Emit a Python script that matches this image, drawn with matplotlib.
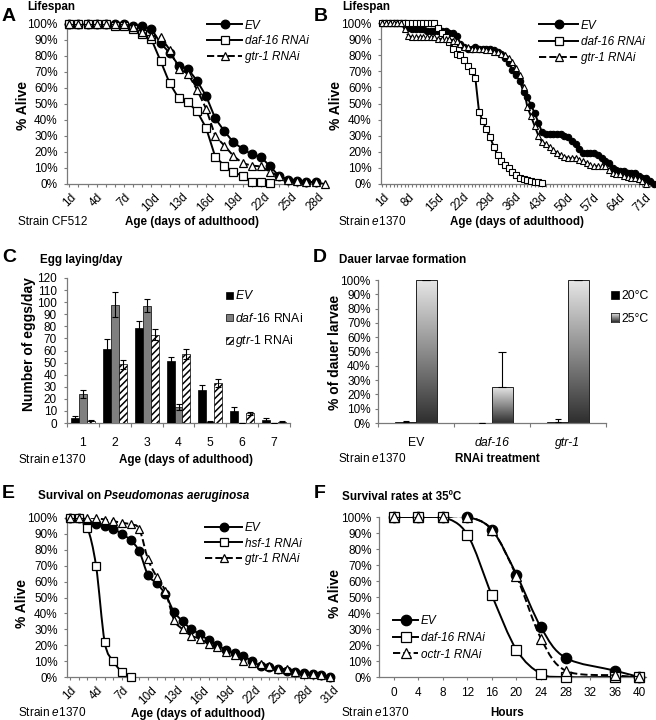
import numpy as np
import matplotlib
matplotlib.use('Agg')
import matplotlib.pyplot as plt
from matplotlib.transforms import Affine2D
from matplotlib.lines import Line2D
from matplotlib.patches import Rectangle, PathPatch
from matplotlib.path import Path
from matplotlib.colors import LinearSegmentedColormap

plt.rcParams['font.family'] = ['Liberation Sans', 'DejaVu Sans']
plt.rcParams['mathtext.fontset'] = 'custom'
plt.rcParams['mathtext.rm'] = 'Liberation Sans'
plt.rcParams['mathtext.it'] = 'Liberation Sans:italic'
plt.rcParams['mathtext.bf'] = 'Liberation Sans:bold'
plt.rcParams['hatch.linewidth'] = 1.1

# ---------------- data ----------------
# Panel A: lifespan, strain CF512 (% alive per day)
a_ev = [100, 100, 100, 100, 100, 100, 100, 99, 98.5, 97, 88, 82, 74, 72, 64.5, 55, 41, 33, 26, 22,
        18.5, 17, 11, 5, 2.5, 2, 1.5, 1]
a_daf16 = [100, 100, 100, 100, 100, 99, 99, 97, 93.5, 90.5, 77, 63, 53.5, 51, 45.5, 35, 17, 11.5, 7.5, 5,
           1.5, 1, 0.5]
a_gtr1 = [100, 100, 100, 100, 100, 100, 100, 98, 95, 92.5, 92, 84, 72, 69, 59, 47, 30, 24, 17.5, 13,
          11.5, 11, 7.5, 5, 2.5, 2, 1.5, 1, 0]
a_ticks = list(range(1, 30, 3))

# Panel B: lifespan, strain e1370
b_ev = [100, 100, 100, 100, 100, 100, 100, 97, 96, 96,
        96, 96, 95, 95, 95, 95, 95, 95, 94, 94,
        92, 87, 85, 84, 84, 85, 84, 84, 84, 84,
        83, 82, 80.5, 78, 75, 71, 68, 64, 57, 54,
        49, 44, 38, 32, 31, 31, 31, 31, 31, 30,
        29, 27, 25, 22, 19, 19, 19, 19, 18, 16,
        14, 13, 10, 9, 8, 8, 7, 7, 7, 5,
        4, 3.5, 2, 0]
b_daf16 = [100, 100, 100, 100, 100, 100, 100, 100, 100, 100,
           100, 100, 100, 100, 100, 97, 94, 91, 88, 84,
           81, 80, 77, 73, 70, 66, 45, 39, 34, 29,
           23, 18, 14.5, 11.5, 10, 7.5, 5.5, 4, 3, 2.5,
           2, 1.5, 1, 0.5]
b_gtr1 = [100, 100, 100, 100, 100, 100, 96, 92, 91, 91,
          91, 91, 91, 91, 91, 90, 90, 90, 90, 89,
          89, 87, 85, 85, 84, 84, 84, 84, 83, 83,
          82, 82, 81, 80, 78, 76, 72, 68, 60, 48,
          42, 36, 30, 26, 25, 23, 21, 19.5, 18, 17,
          16, 16, 16, 15, 14, 13, 12, 11, 11, 11,
          11, 9, 7, 6.5, 6, 5, 4.5, 4, 3.5, 3,
          2, 0]
b_ticks = list(range(1, 75, 7))

# Panel C: egg laying per day
c_days = [1, 2, 3, 4, 5, 6, 7]
c_ev = [4, 61, 79, 51, 27, 10, 2.5]
c_ev_err = [2, 8.5, 5.5, 3.6, 4.2, 3.1, 1.4]
c_daf16 = [24, 98, 97, 13, 1, 0, 0]
c_daf16_err = [3.3, 10.5, 5.5, 2.5, 0.3, 0, 0]
c_gtr1 = [2, 48.5, 73, 57, 33, 8, 1]
c_gtr1_err = [0.5, 3.5, 4.5, 4.2, 3.4, 1.4, 0.4]

# Panel D: dauer larvae formation
d_cats = ['EV', 'daf-16', 'gtr-1']
d_20 = [0.6, 0, 1.0]
d_20_err = [1.0, 0, 2.0]
d_25 = [100, 25, 100]
d_25_err = [0, 25, 0]

# Panel E: survival on P. aeruginosa
e_ev = [100, 100, 97, 96, 95, 93, 90, 86, 79, 64, 59, 52, 41, 35, 30, 27, 23, 20, 17, 15,
        13, 10, 7, 6, 5, 4, 3, 2.5, 2, 1, 0]
e_hsf1 = [100, 100, 94, 70, 22, 10, 3, 0]
e_gtr1 = [100, 100, 100, 100, 99, 98, 97, 96, 93, 74, 63, 54, 36, 30, 26, 24, 21, 19, 16, 14,
          10, 9, 8, 7, 5, 5, 3, 2, 2, 1, 0]
e_ticks = list(range(1, 32, 3))

# Panel F: survival at 35 C
f_hours = [0, 4, 8, 12, 16, 20, 24, 28, 36, 40]
f_ev = [100, 100, 100, 100, 92, 64, 31, 12, 4, 0]
f_daf16 = [100, 100, 100, 89, 51, 17, 2, 0, 0, 0]
f_octr1 = [100, 100, 100, 100, 92, 63, 24, 4, 1, 0]
f_ticks = list(range(0, 41, 4))

# ---------------- figure helpers ----------------
W, H = 656, 720
fig = plt.figure(figsize=(W / 100, H / 100), dpi=100)
pxT = Affine2D().scale(0.01, -0.01).translate(0, H / 100) + fig.dpi_scale_trans
AXC = '#7a7a7a'
LW = 1.4
TK = 8.5      # tick label size


def px_rect(l, t, r, b):
    return [l / W, 1 - b / H, (r - l) / W, (b - t) / H]


def mkax(l, t, r, b):
    ax = fig.add_axes(px_rect(l, t, r, b))
    for s in ('top', 'right'):
        ax.spines[s].set_visible(False)
    for s in ('left', 'bottom'):
        ax.spines[s].set_color(AXC)
        ax.spines[s].set_linewidth(0.9)
    ax.tick_params(which='both', direction='out', color=AXC, width=0.8, length=2.2,
                   labelsize=TK, labelcolor='black')
    ax.set_facecolor('none')
    return ax


def pct_y(ax, pad=4.5):
    ax.set_ylim(0, 100)
    ax.set_yticks(range(0, 101, 10))
    ax.set_yticklabels([f'{v}%' for v in range(0, 101, 10)])
    ax.tick_params(axis='y', pad=pad, labelsize=TK)


def ftext(x, y, s, size, **kw):
    va = kw.pop('va', 'baseline')
    return fig.text(x, y, s, transform=pxT, fontsize=size, va=va, **kw)


def cap(size):
    return 0.716 * size * 100 / 72


MK = {'ev': dict(marker='o', mfc='black', mec='black'),
      'sq': dict(marker='s', mfc='white', mec='black'),
      'tri': dict(marker='^', mfc='white', mec='black')}


def bezier_path(x, y):
    p = np.column_stack([x, y]).astype(float)
    n = len(p)
    verts = [p[0]]
    codes = [Path.MOVETO]
    for i in range(n - 1):
        p0 = p[max(i - 1, 0)]
        p1 = p[i]
        p2 = p[i + 1]
        p3 = p[min(i + 2, n - 1)]
        verts += [p1 + (p2 - p0) / 6, p2 - (p3 - p1) / 6, p2]
        codes += [Path.CURVE4] * 3
    return Path(verts, codes)


def plot_series(ax, x, y, kind, ms, smooth=False, z=3, mew=0.9):
    ls = '--' if kind == 'tri' else '-'
    if smooth:
        ax.add_patch(PathPatch(bezier_path(x, y), fill=False, ec='black', lw=LW, ls=ls, zorder=z))
    else:
        ax.plot(x, y, color='black', lw=LW, ls=ls, zorder=z)
    ax.plot(x, y, ls='none', ms=ms, mew=mew, zorder=z + 0.5, clip_on=False, **MK[kind])


def leg_line(x0, x1, y, kind, ms, label, tx, size=8.5):
    ls = '--' if kind == 'tri' else '-'
    fig.add_artist(Line2D([x0, x1], [y, y], transform=pxT, color='black', lw=LW, ls=ls))
    fig.add_artist(Line2D([(x0 + x1) / 2], [y], transform=pxT, ls='none', ms=ms, mew=0.9, **MK[kind]))
    ftext(tx, y + cap(size) / 2, label, size, style='italic')


def day_axis(ax, days, ticks, lo, hi):
    ax.set_xlim(lo, hi)
    ax.set_xticks(days, minor=True)
    ax.set_xticks(ticks)
    ax.set_xticklabels([f'{d}d' for d in ticks], rotation=45, ha='center', va='top')
    ax.tick_params(axis='x', which='both', length=2.2, pad=3, labelsize=TK)


TITLE = 8.4
XL = 8.4
YL = 10
LET = 14

# ---------------- Panel A ----------------
ax = mkax(67, 24, 327, 184)
plot_series(ax, range(1, len(a_ev) + 1), a_ev, 'ev', 6.2, z=3)
plot_series(ax, range(1, len(a_daf16) + 1), a_daf16, 'sq', 6.2, z=4)
plot_series(ax, range(1, len(a_gtr1) + 1), a_gtr1, 'tri', 6.2, z=5)
pct_y(ax)
day_axis(ax, range(1, len(a_gtr1) + 1), a_ticks, 0.75, 29.25)
leg_line(207, 242, 24.3, 'ev', 6.2, 'EV', 245)
leg_line(207, 242, 40, 'sq', 6.2, 'daf-16 RNAi', 245)
leg_line(207, 242, 55.7, 'tri', 6.2, 'gtr-1 RNAi', 245)
ftext(2, 20.7, 'A', LET, weight='bold')
ftext(27, 9.8, 'Lifespan', TITLE, weight='bold')
ftext(23, 105, '% Alive', YL, weight='bold', rotation=90, ha='center', va='center')
ftext(18, 225, 'Strain CF512', 8.5)
ftext(192, 225, 'Age (days of adulthood)', XL, weight='bold', ha='center')

# ---------------- Panel B ----------------
ax = mkax(381, 23, 655, 184)
plot_series(ax, range(1, len(b_ev) + 1), b_ev, 'ev', 4.6, z=3, mew=0.8)
plot_series(ax, range(1, len(b_daf16) + 1), b_daf16, 'sq', 4.6, z=4, mew=0.8)
plot_series(ax, range(1, len(b_gtr1) + 1), b_gtr1, 'tri', 4.6, z=5, mew=0.8)
pct_y(ax)
day_axis(ax, range(1, len(b_ev) + 1), b_ticks, 0.6, 74.4)
leg_line(539, 578, 24.3, 'ev', 6.2, 'EV', 581)
leg_line(539, 578, 40.7, 'sq', 6.2, 'daf-16 RNAi', 581)
leg_line(539, 578, 56.7, 'tri', 6.2, 'gtr-1 RNAi', 581)
ftext(314, 20.7, 'B', LET, weight='bold')
ftext(342, 9.8, 'Lifespan', TITLE, weight='bold')
ftext(336, 105, '% Alive', YL, weight='bold', rotation=90, ha='center', va='center')
ftext(338, 225, 'Strain $\\mathit{e1370}$', 8.5)
ftext(517, 225, 'Age (days of adulthood)', XL, weight='bold', ha='center')

# ---------------- Panel C ----------------
ax = mkax(67, 278, 290, 423)
bw = 0.25
xs = np.array(c_days, dtype=float)
ekw = dict(ecolor='black', elinewidth=0.8, capsize=2.2, capthick=0.8)
ax.bar(xs - bw, c_ev, bw, color='black', edgecolor='black', lw=0.5, yerr=c_ev_err,
       error_kw=ekw, zorder=3)
ax.bar(xs, c_daf16, bw, color='#7f7f7f', edgecolor='black', lw=0.5, yerr=c_daf16_err,
       error_kw=ekw, zorder=3)
ax.bar(xs + bw, c_gtr1, bw, color='white', edgecolor='black', lw=0.5, hatch='/////',
       yerr=c_gtr1_err, error_kw=ekw, zorder=3)
ax.set_xlim(0.5, 7.5)
ax.set_ylim(0, 120)
ax.set_yticks(range(0, 121, 10))
ax.tick_params(axis='y', pad=5, labelsize=TK)
ax.set_xticks(np.arange(0.5, 7.6, 1))
ax.set_xticklabels([])
ax.set_xticks(c_days, minor=True)
ax.set_xticklabels([str(d) for d in c_days], minor=True)
ax.tick_params(axis='x', which='major', length=3)
ax.tick_params(axis='x', which='minor', length=0, pad=10, labelsize=8.8)
# legend
for i, (fc, hat, lab) in enumerate([('black', None, '$\\mathit{EV}$'),
                                    ('#7f7f7f', None, '$\\mathit{daf}$-$\\mathit{16}$ RNAi'),
                                    ('white', '/////', '$\\mathit{gtr}$-$\\mathit{1}$ RNAi')]):
    yc = 295 + i * 22.5
    fig.add_artist(Rectangle((226, yc - 3.5), 6.5, 7, transform=pxT, fc=fc, ec='black',
                             lw=0.5, hatch=hat))
    ftext(235, yc + cap(8.8) / 2, lab, 8.8)
ftext(2, 262, 'C', LET, weight='bold')
ftext(40, 263, 'Egg laying/day', TITLE, weight='bold')
ftext(29, 344, 'Number of eggs/day', YL, weight='bold', rotation=90, ha='center', va='center')
ftext(18, 463, 'Strain $\\mathit{e1370}$', 8.5)
ftext(186, 463, 'Age (days of adulthood)', XL, weight='bold', ha='center')

# ---------------- Panel D ----------------
ax = mkax(378, 280, 606, 423)
dw = 0.27
xd = np.arange(1, len(d_cats) + 1, dtype=float)
gcmap = LinearSegmentedColormap.from_list('g', ['#2e2e2e', '#8c8c8c', '#e6e6e6'])
grad = np.linspace(0, 1, 256).reshape(-1, 1)
ax.bar(xd - dw / 2, d_20, dw, color='black', edgecolor='black', lw=0.5,
       yerr=[np.zeros(3), d_20_err], error_kw=ekw, zorder=3)
bars = ax.bar(xd + dw / 2, d_25, dw, facecolor='none', edgecolor='#222222', lw=0.7,
              yerr=[np.zeros(3), d_25_err], error_kw=dict(ekw, capsize=2.8), zorder=3)
for b in bars:
    if b.get_height() > 0:
        ax.imshow(grad, extent=[b.get_x(), b.get_x() + b.get_width(), 0, b.get_height()],
                  origin='lower', cmap=gcmap, aspect='auto', zorder=2, interpolation='bilinear')
ax.set_xlim(0.5, 3.5)
pct_y(ax, pad=3)
ax.set_xticks(np.arange(0.5, 3.6, 1))
ax.set_xticklabels([])
ax.set_xticks(xd, minor=True)
ax.set_xticklabels(d_cats, minor=True)
for lab in ax.get_xticklabels(minor=True):
    if lab.get_text() != 'EV':
        lab.set_style('italic')
ax.tick_params(axis='x', which='major', length=3)
ax.tick_params(axis='x', which='minor', length=0, pad=10, labelsize=8.8)
fig.add_artist(Rectangle((611, 290.5), 8, 8.5, transform=pxT, fc='black', ec='black', lw=0.5))
ftext(621, 294.7 + cap(8.8) / 2, '20°C', 8.8)
sw = fig.add_axes(px_rect(611, 313, 619, 321.5))
sw.imshow(grad, origin='lower', cmap=gcmap, aspect='auto', extent=[0, 1, 0, 1])
sw.set_xticks([])
sw.set_yticks([])
for s in sw.spines.values():
    s.set_color('#222222')
    s.set_linewidth(0.6)
ftext(621, 317.2 + cap(8.8) / 2, '25°C', 8.8)
ftext(313, 262, 'D', LET, weight='bold')
ftext(339, 263, 'Dauer larvae formation', TITLE, weight='bold')
ftext(335, 352, '% of dauer larvae', YL, weight='bold', rotation=90, ha='center', va='center')
ftext(338, 462, 'Strain $\\mathit{e1370}$', 8.5)
ftext(497, 462, 'RNAi treatment', XL, weight='bold', ha='center')

# ---------------- Panel E ----------------
ax = mkax(67, 518, 333, 677)
plot_series(ax, range(1, len(e_ev) + 1), e_ev, 'ev', 6.2, smooth=True, z=3)
plot_series(ax, range(1, len(e_hsf1) + 1), e_hsf1, 'sq', 6.2, smooth=True, z=4)
plot_series(ax, range(1, len(e_gtr1) + 1), e_gtr1, 'tri', 6.2, smooth=True, z=5)
pct_y(ax)
day_axis(ax, range(1, len(e_ev) + 1), e_ticks, 0.65, 31.35)
leg_line(205, 242, 526.7, 'ev', 6.2, 'EV', 245)
leg_line(205, 242, 542.3, 'sq', 6.2, 'hsf-1 RNAi', 245)
leg_line(205, 242, 557.5, 'tri', 6.2, 'gtr-1 RNAi', 245)
ftext(2, 498.5, 'E', LET, weight='bold')
r = fig.canvas.get_renderer()
t1 = ftext(38, 499, 'Survival on', TITLE, weight='bold')
x2 = 38 + t1.get_window_extent(r).width + 0.278 * TITLE * 100 / 72
ftext(x2, 499, 'Pseudomonas aeruginosa', TITLE, weight='bold', style='italic')
ftext(22.5, 603, '% Alive', YL, weight='bold', rotation=90, ha='center', va='center')
ftext(18, 716.5, 'Strain $\\mathit{e1370}$', 8.5)
ftext(198, 716.5, 'Age (days of adulthood)', XL, weight='bold', ha='center')

# ---------------- Panel F ----------------
ax = mkax(379, 517, 646, 677)
plot_series(ax, f_hours, f_ev, 'ev', 7.5, smooth=True, z=3)
plot_series(ax, f_hours, f_daf16, 'sq', 7.5, smooth=True, z=4)
plot_series(ax, f_hours, f_octr1, 'tri', 7.5, smooth=True, z=5)
pct_y(ax, pad=3)
ax.set_xlim(-2.4, 41.1)
ax.set_xticks(f_ticks)
ax.tick_params(axis='x', length=2.2, pad=5, labelsize=TK)
leg_line(393, 418, 620, 'ev', 7.5, 'EV', 421)
leg_line(393, 418, 636.7, 'sq', 7.5, 'daf-16 RNAi', 421)
leg_line(393, 418, 653.3, 'tri', 7.5, 'octr-1 RNAi', 421)
ftext(314, 498.5, 'F', LET, weight='bold')
ftext(342, 500, 'Survival rates at 35ºC', TITLE, weight='bold')
ftext(335, 594, '% Alive', YL, weight='bold', rotation=90, ha='center', va='center')
ftext(341, 716.5, 'Strain $\\mathit{e1370}$', 8.5)
ftext(507, 716.5, 'Hours', XL, weight='bold', ha='center')

fig.savefig('out.png', dpi=100, facecolor='white')
